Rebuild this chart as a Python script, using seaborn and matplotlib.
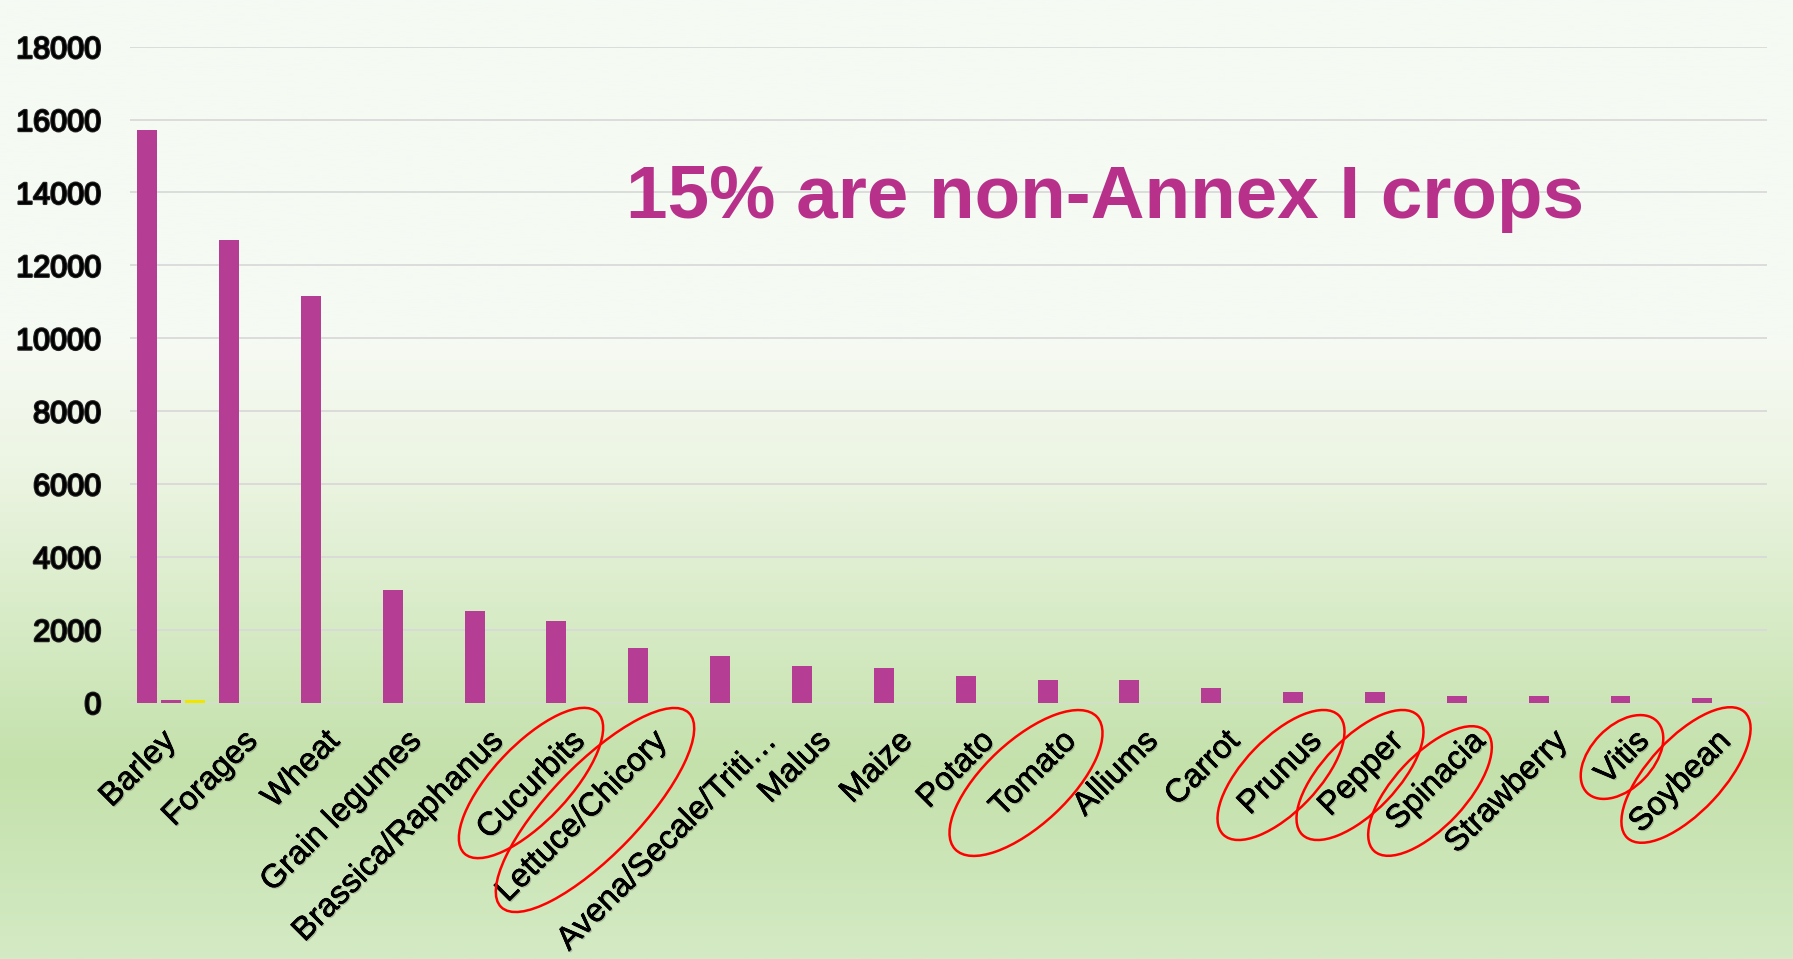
import numpy as np
import pandas as pd
import seaborn as sns
import matplotlib.pyplot as plt
import matplotlib.patheffects as pe
import matplotlib.transforms as mtransforms
from matplotlib.patches import Ellipse
from matplotlib.colors import LinearSegmentedColormap

crops = ['Barley', 'Forages', 'Wheat', 'Grain legumes', 'Brassica/Raphanus', 'Cucurbits',
         'Lettuce/Chicory', 'Avena/Secale/Triti…', 'Malus', 'Maize', 'Potato', 'Tomato',
         'Alliums', 'Carrot', 'Prunus', 'Pepper', 'Spinacia', 'Strawberry', 'Vitis', 'Soybean']
counts = [15700, 12700, 11150, 3100, 2500, 2230, 1500, 1270, 1000, 950,
          730, 620, 620, 400, 290, 290, 180, 180, 180, 120]
series_b = [80, 0, 0, 0, 0, 0, 0, 0, 0, 0, 0, 0, 0, 0, 0, 0, 0, 0, 0, 0]
series_c = [80, 0, 0, 0, 0, 0, 0, 0, 0, 0, 0, 0, 0, 0, 0, 0, 0, 0, 0, 0]
yticks = [0, 2000, 4000, 6000, 8000, 10000, 12000, 14000, 16000, 18000]
title = '15% are non-Annex I crops'
circled = ['Cucurbits', 'Lettuce/Chicory', 'Tomato', 'Prunus', 'Pepper', 'Spinacia', 'Vitis', 'Soybean']

df = pd.concat([
    pd.DataFrame({'crop': crops, 'value': counts, 'series': 'a'}),
    pd.DataFrame({'crop': crops, 'value': series_b, 'series': 'b'}),
    pd.DataFrame({'crop': crops, 'value': series_c, 'series': 'c'}),
])

plt.rcParams['font.family'] = ['Liberation Sans', 'DejaVu Sans']

W, H = 1793, 959
fig = plt.figure(figsize=(W / 100, H / 100), dpi=100)

# background gradient
cmap = LinearSegmentedColormap.from_list('bg', [
    (0.0, '#F5FAF4'), (0.36, '#F6FAF3'), (0.5, '#EBF4E1'),
    (0.65, '#D7EBC6'), (0.8, '#C4E1AB'), (1.0, '#D4EAC4')])
bg = fig.add_axes([0, 0, 1, 1])
bg.imshow(np.linspace(0, 1, 512).reshape(-1, 1), aspect='auto', cmap=cmap, extent=[0, 1, 0, 1])
bg.axis('off')

ax = fig.add_axes([130 / W, (H - 702.5) / H, (1767 - 130) / W, (702.5 - 46.7) / H])
ax.set_facecolor('none')
sns.barplot(data=df, x='crop', y='value', hue='series',
            palette=['#B53D94', '#B53D94', '#F0E400'], saturation=1,
            width=0.87, gap=0.16, errorbar=None, legend=False, ax=ax)

ax.set_xlim(-0.5, len(crops) - 0.5)
ax.set_ylim(0, 18000)
ax.yaxis.grid(True, color='#D9D9D9', lw=1.3)
ax.set_axisbelow(True)
for s in ax.spines.values():
    s.set_visible(False)
ax.set_xlabel('')
ax.set_ylabel('')
ax.tick_params(axis='both', length=0)
ax.tick_params(axis='y', pad=20.5)
ax.tick_params(axis='x', pad=24.5)

shadow = [pe.withSimplePatchShadow(offset=(1, -1), shadow_rgbFace='#333333', alpha=0.25),
          pe.withStroke(linewidth=0.4, foreground='black')]
ax.set_yticks(yticks)
ax.set_yticklabels([str(v) for v in yticks], fontsize=22, color='black',
                   path_effects=[pe.withStroke(linewidth=1.6, foreground='#222222')])
ax.set_xticks(range(len(crops)))
ax.set_xticklabels(crops, rotation=45, ha='right', va='center', rotation_mode='anchor',
                   fontsize=23.5, color='black', path_effects=shadow)

# the truncated label sits a little to the right in the original
lab = ax.get_xticklabels()[crops.index('Avena/Secale/Triti…')]
lab.set_transform(lab.get_transform() + mtransforms.ScaledTranslation(0.28, 0, fig.dpi_scale_trans))

fig.text(626 / W, 1 - 217.7 / H, title, fontsize=53.7, fontweight='bold',
         color='#B7318A', ha='left', va='baseline')

# red rings round the non-Annex I crops (pixel layout)
ov = fig.add_axes([0, 0, 1, 1])
ov.set_xlim(0, W)
ov.set_ylim(H, 0)
ov.axis('off')
rings = {'Cucurbits': (531, 783, 194, 76, 46.6), 'Lettuce/Chicory': (595, 810, 270, 90, 46),
         'Tomato': (1026, 783, 194, 84, 43), 'Prunus': (1281, 775, 166, 74, 46),
         'Pepper': (1360, 775, 166, 74, 46), 'Spinacia': (1430, 791, 164, 72, 47),
         'Vitis': (1622, 757, 100, 62, 46), 'Soybean': (1686, 775, 172, 74, 47)}
for name in circled:
    cx, cy, w, h, ang = rings[name]
    ov.add_patch(Ellipse((cx, cy), w, h, angle=-ang, fill=False, ec='#FF0000', lw=1.8))

fig.savefig('out.png', dpi=100)
